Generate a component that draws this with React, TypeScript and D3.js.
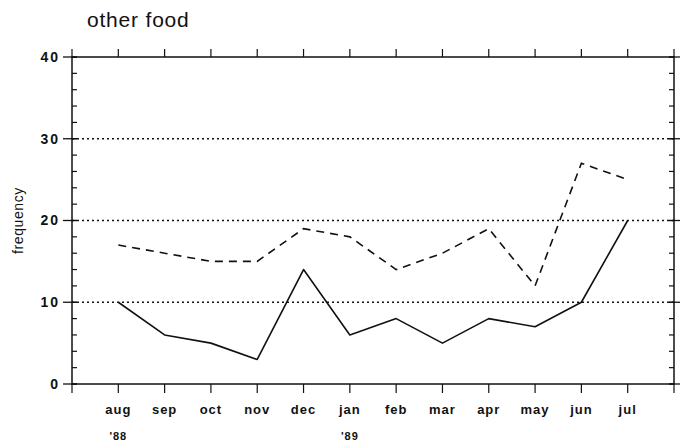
import * as d3 from 'd3'

const months = ['aug', 'sep', 'oct', 'nov', 'dec', 'jan', 'feb', 'mar', 'apr', 'may', 'jun', 'jul']
const years = ['\'88', '', '', '', '', '\'89', '', '', '', '', '', '']
const solidSeries = [10, 6, 5, 3, 14, 6, 8, 5, 8, 7, 10, 20]
const dashedSeries = [17, 16, 15, 15, 19, 18, 14, 16, 19, 12, 27, 25]
const yTicks = [0, 10, 20, 30, 40]
const gridLines = [10, 20, 30]

const W = 690
const H = 447
const left = 72
const right = 674
const top = 57
const bottom = 384
const font = '"Liberation Sans", Arial, Helvetica, sans-serif'

export default function App() {
  // 13 intervals, months sit at 1..12
  const x = d3.scaleLinear().domain([0, 13]).range([left, right])
  const y = d3.scaleLinear().domain([0, 40]).range([bottom, top])

  const line = d3.line<number>()
    .x((_, i) => x(i + 1))
    .y(d => y(d))

  const minor = d3.range(0, 41, 2)
  const xTicks = d3.range(0, 14)

  return (
    <svg width={W} height={H} style={{ position: 'absolute', left: 0, top: 0, background: '#fff' }}>
      <text x={87} y={27} fontFamily={font} fontSize={21} letterSpacing={0.8} fill="#111">other food</text>

      <text transform={`translate(23,${y(20)}) rotate(-90)`} textAnchor="middle"
        fontFamily={font} fontSize={14} letterSpacing={0.6} fill="#111">frequency</text>

      {/* grid */}
      {gridLines.map(v => (
        <line key={v} x1={left} x2={right} y1={y(v)} y2={y(v)}
          stroke="#111" strokeWidth={1.3} strokeDasharray="2,3" />
      ))}

      {/* frame */}
      <rect x={left} y={top} width={right - left} height={bottom - top}
        fill="none" stroke="#111" strokeWidth={1.5} />

      {/* y ticks */}
      {minor.map(v => (
        <g key={v}>
          <line x1={left} x2={left + 5} y1={y(v)} y2={y(v)} stroke="#111" strokeWidth={1.2} />
          <line x1={right - 5} x2={right} y1={y(v)} y2={y(v)} stroke="#111" strokeWidth={1.2} />
        </g>
      ))}
      {yTicks.map(v => (
        <g key={v}>
          <line x1={left - 9} x2={left + 5} y1={y(v)} y2={y(v)} stroke="#111" strokeWidth={1.3} />
          <line x1={right - 5} x2={right + 6} y1={y(v)} y2={y(v)} stroke="#111" strokeWidth={1.3} />
          <text x={left - 12} y={y(v)} dy="0.35em" textAnchor="end" fontFamily={font}
            fontSize={14} fontWeight="bold" letterSpacing={2} fill="#111">{v}</text>
        </g>
      ))}

      {/* x ticks */}
      {xTicks.map(i => (
        <g key={i}>
          <line x1={x(i)} x2={x(i)} y1={top} y2={top - 8} stroke="#111" strokeWidth={1.2} />
          <line x1={x(i)} x2={x(i)} y1={bottom} y2={bottom + 9} stroke="#111" strokeWidth={1.2} />
        </g>
      ))}
      {months.map((m, i) => (
        <g key={m}>
          <text x={x(i + 1)} y={414} textAnchor="middle" fontFamily={font} fontSize={13}
            fontWeight="bold" letterSpacing={1} fill="#111">{m}</text>
          {years[i] && (
            <text x={x(i + 1)} y={440} textAnchor="middle" fontFamily={font} fontSize={11}
              fontWeight="bold" letterSpacing={1} fill="#111">{years[i]}</text>
          )}
        </g>
      ))}

      {/* series */}
      <path d={line(solidSeries) ?? ''} fill="none" stroke="#111" strokeWidth={1.6}
        strokeLinejoin="round" />
      <path d={line(dashedSeries) ?? ''} fill="none" stroke="#111" strokeWidth={1.6}
        strokeDasharray="8,6" />
    </svg>
  )
}
